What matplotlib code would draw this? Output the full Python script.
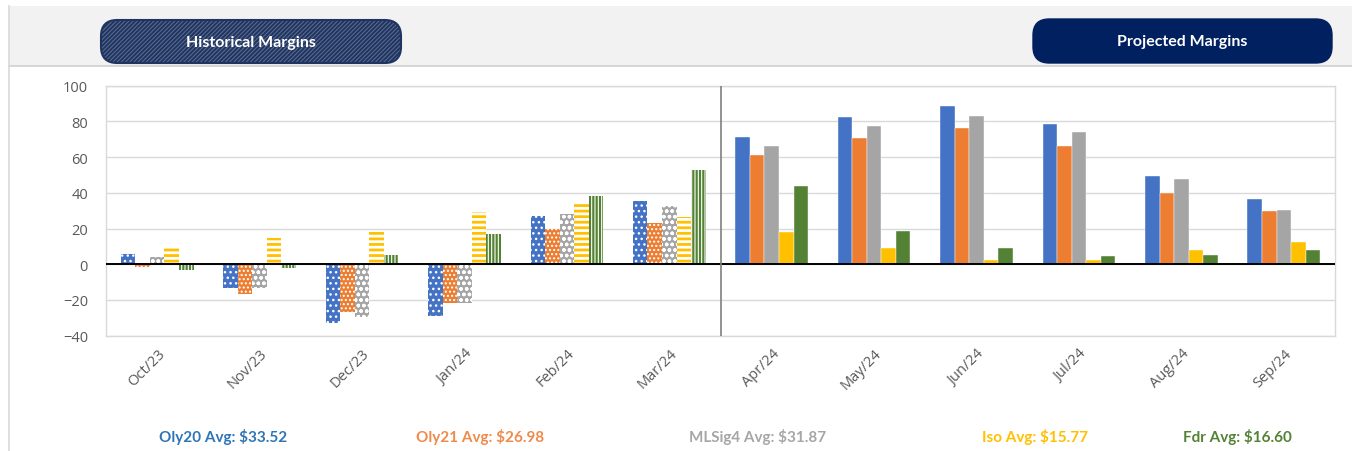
import matplotlib
matplotlib.use("Agg")
import matplotlib.pyplot as plt
import numpy as np
from matplotlib.patches import Rectangle, FancyBboxPatch
from matplotlib.lines import Line2D

plt.rcParams['font.family'] = ['Lato', 'DejaVu Sans']

categories = ["Oct/23", "Nov/23", "Dec/23", "Jan/24", "Feb/24", "Mar/24",
              "Apr/24", "May/24", "Jun/24", "Jul/24", "Aug/24", "Sep/24"]
oly20 = [5.8, -13.2, -33.0, -28.9, 27.0, 35.3, 71.4, 82.4, 88.9, 78.3, 49.4, 36.8]
oly21 = [-1.3, -16.8, -26.6, -21.6, 19.9, 22.9, 61.0, 70.5, 76.3, 66.4, 39.8, 29.7]
mlsig4 = [4.3, -13.2, -29.4, -21.6, 28.3, 32.4, 66.4, 77.5, 83.3, 74.2, 48.0, 30.4]
iso = [9.4, 14.9, 17.9, 29.0, 34.6, 26.4, 17.8, 9.3, 2.3, 2.3, 7.9, 12.2]
fdr = [-3.2, -1.9, 5.0, 17.1, 38.2, 52.7, 43.8, 18.4, 9.2, 4.4, 5.0, 7.9]
n_hist = 6  # first six months are historical

series_names = ["Oly20", "Oly21", "MLSig4", "Iso", "Fdr"]
averages = [33.52, 26.98, 31.87, 15.77, 16.60]
y_ticks = [-40, -20, 0, 20, 40, 60, 80, 100]

bar_colors = ["#4472C4", "#ED7D31", "#A5A5A5", "#FFC000", "#548235"]
text_colors = ["#2E75B6", "#F08A4B", "#A6A6A6", "#FFC000", "#548235"]
hatches = ["...", "....", "ooo", "---", "|||||"]
hatch_lws = [1.0, 1.0, 1.0, 2.0, 0.8]

W, H = 1352, 452
fig = plt.figure(figsize=(W / 100, H / 100), dpi=100)
fig.patch.set_facecolor("white")

def fx(px):
    return px / W

def fy(py):
    return 1 - py / H

# top band and frame lines
fig.add_artist(Rectangle((fx(9), fy(67)), fx(W - 9), (67 - 7) / H,
                         transform=fig.transFigure, facecolor="#F2F2F2",
                         edgecolor="none", zorder=0))
fig.add_artist(Line2D([fx(9), 1], [fy(67), fy(67)], transform=fig.transFigure,
                      color="#D0D0D0", lw=1.2, zorder=1))
fig.add_artist(Line2D([fx(9), fx(9)], [fy(7), 0], transform=fig.transFigure,
                      color="#D9D9D9", lw=1.2, zorder=1))

# Buttons
bx0, by0, bx1, by1 = 101, 21, 401, 64
hist_fill = FancyBboxPatch((fx(bx0), fy(by1)), fx(bx1 - bx0), (by1 - by0) / H,
                           boxstyle="round,pad=0,rounding_size=0.012",
                           transform=fig.transFigure, facecolor="#1F3460",
                           edgecolor="#5E6F90", hatch="////////", lw=0, zorder=2,
                           mutation_aspect=W / H)
if hasattr(hist_fill, "set_hatch_linewidth"):
    hist_fill.set_hatch_linewidth(0.7)
fig.add_artist(hist_fill)
fig.add_artist(FancyBboxPatch((fx(bx0), fy(by1)), fx(bx1 - bx0), (by1 - by0) / H,
                              boxstyle="round,pad=0,rounding_size=0.012",
                              transform=fig.transFigure, facecolor="none",
                              edgecolor="#1F3460", lw=1.5, zorder=3,
                              mutation_aspect=W / H))
fig.text(fx((bx0 + bx1) / 2), fy((by0 + by1) / 2), "Historical Margins",
         ha="center", va="center", color="white", fontsize=11.5,
         fontweight="bold", zorder=4)

px0, py0, px1, py1 = 1033, 20, 1332, 64
fig.add_artist(FancyBboxPatch((fx(px0), fy(py1)), fx(px1 - px0), (py1 - py0) / H,
                              boxstyle="round,pad=0,rounding_size=0.012",
                              transform=fig.transFigure, facecolor="#002060",
                              edgecolor="#002060", lw=1, zorder=2,
                              mutation_aspect=W / H))
fig.text(fx((px0 + px1) / 2), fy((py0 + py1) / 2), "Projected Margins",
         ha="center", va="center", color="white", fontsize=11.5,
         fontweight="bold", zorder=4)

# Axes
ax_l, ax_r, ax_t, ax_b = 106, 1335, 86.7, 336.7
ax = fig.add_axes([fx(ax_l), fy(ax_b), fx(ax_r - ax_l), (ax_b - ax_t) / H])
ax.set_facecolor("white")

x = np.arange(len(categories))
bw = 0.142
data = [oly20, oly21, mlsig4, iso, fdr]
for i, vals in enumerate(data):
    off = (i - 2) * bw
    vals = np.array(vals)
    # projected (solid)
    ax.bar(x[n_hist:] + off, vals[n_hist:], width=bw, color=bar_colors[i],
           edgecolor="white", linewidth=0.3, zorder=3)
    # historical (patterned)
    bars = ax.bar(x[:n_hist] + off, vals[:n_hist], width=bw, color=bar_colors[i],
                  edgecolor="white", linewidth=0, hatch=hatches[i], zorder=3)
    for b in bars:
        if hasattr(b, "set_hatch_linewidth"):
            b.set_hatch_linewidth(hatch_lws[i])

ax.set_xlim(-0.5, len(categories) - 0.5)
ax.set_ylim(-40, 100)
ax.set_yticks(y_ticks)
ax.set_xticks(x)
ax.set_xticklabels(categories, rotation=45, ha="right", va="top",
                   rotation_mode="anchor")
ax.tick_params(axis="both", length=0, colors="#595959", labelsize=10.5,
               labelfontfamily="Open Sans")
ax.tick_params(axis="y", pad=13)
ax.tick_params(axis="x", pad=7)
ax.yaxis.grid(True, color="#D9D9D9", lw=1, zorder=0)
ax.set_axisbelow(True)
for s in ax.spines.values():
    s.set_color("#D9D9D9")
    s.set_linewidth(1)
ax.axhline(0, color="black", lw=1.4, zorder=4)
ax.axvline(n_hist - 0.5, color="#7F7F7F", lw=1.2, zorder=4)

# Averages row
avg_centers = [223, 480, 758, 1035, 1237]
for name, avg, col, cx in zip(series_names, averages, text_colors, avg_centers):
    fig.text(fx(cx), fy(437), f"{name} Avg: ${avg:.2f}", ha="center", va="center",
             color=col, fontsize=11, fontweight="bold")

fig.savefig("out.png", dpi=100, facecolor="white")
